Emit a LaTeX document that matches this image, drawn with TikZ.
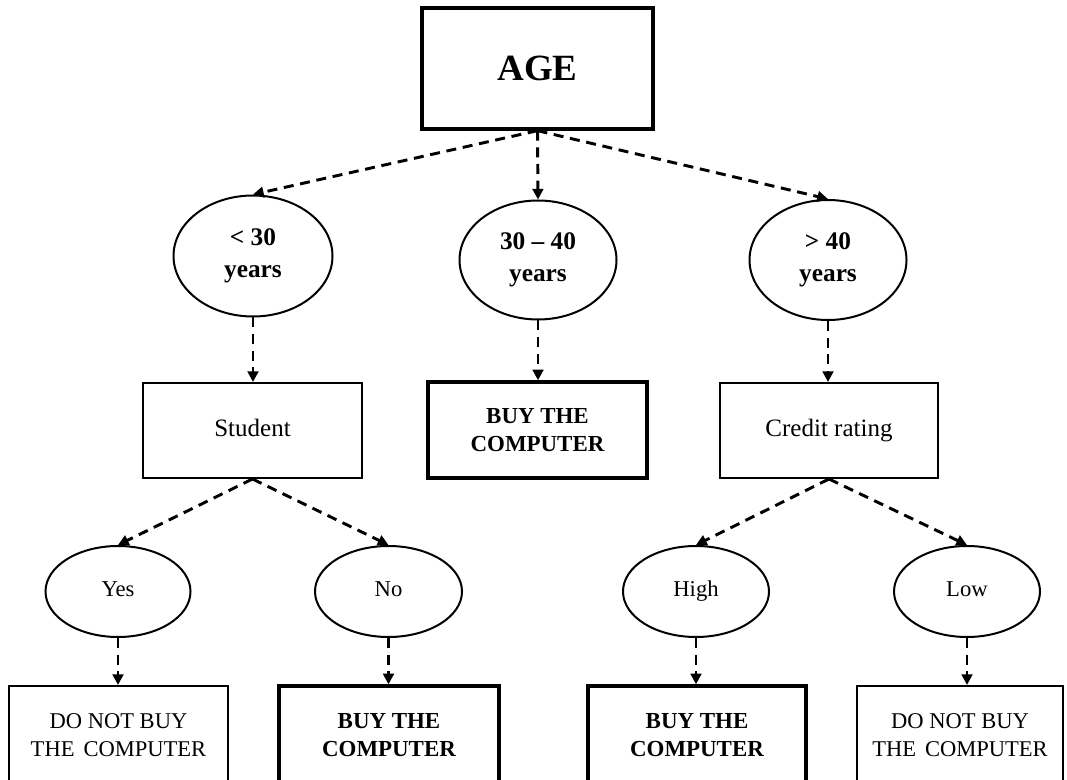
\documentclass[tikz,border=0pt]{standalone}
\usepackage{fontspec}
\setmainfont{Liberation Serif}
\usetikzlibrary{shapes.geometric,arrows.meta}
\tikzset{
  box/.style={draw,line width=1.5pt,rectangle,align=center,inner sep=0pt,font=\fontsize{18.75pt}{23pt}\selectfont},
  onelinetext/.style={text height=13pt,text depth=4pt},
  thickbox/.style={box,line width=2.5pt},
  oval/.style={draw,line width=1.5pt,ellipse,align=center,inner sep=0pt,font=\fontsize{19pt}{24pt}\selectfont\bfseries},
  smalloval/.style={oval,font=\fontsize{17pt}{20pt}\selectfont,text height=12pt,text depth=4pt},
  leafbox/.style={box,font=\fontsize{16.9pt}{21pt}\selectfont},
  buybox/.style={thickbox,font=\fontsize{17.2pt}{20.5pt}\selectfont\bfseries},
  conn/.style={line width=2.2pt,dash pattern=on 7.5pt off 5pt,-{Triangle[length=8pt,width=8pt]}},
}
\begin{document}
\begin{tikzpicture}[x=0.75pt,y=-0.75pt]
\useasboundingbox (0,0) rectangle (1067,780);
\clip (0,0) rectangle (1067,780);
\node[thickbox,minimum width=173.25pt,minimum height=90.75pt,font=\fontsize{27.75pt}{32pt}\selectfont\bfseries] (age) at (537.5,68.5) {AGE};

\node[oval,minimum width=119.25pt,minimum height=90.75pt] (lt30) at (253,256) {< 30\\years};
\node[oval,minimum width=117.75pt,minimum height=89.25pt] (mid) at (538,260) {30 – 40\\years};
\node[oval,minimum width=117.75pt,minimum height=90pt] (gt40) at (828,260) {> 40\\years};

\node[box,onelinetext,minimum width=164.25pt,minimum height=71.25pt] (student) at (252.5,430.5) {Student};
\node[buybox,minimum width=164.25pt,minimum height=72pt] (buy1) at (537.5,430) {BUY THE\\COMPUTER};
\node[box,onelinetext,minimum width=163.5pt,minimum height=71.25pt] (credit) at (829,430.5) {Credit rating};

\node[smalloval,minimum width=108.75pt,minimum height=68.25pt] (yes) at (118,591.5) {Yes};
\node[smalloval,minimum width=110.25pt,minimum height=68.25pt] (no) at (388.5,591.5) {No};
\node[smalloval,minimum width=109.5pt,minimum height=68.25pt] (high) at (696,591.5) {High};
\node[smalloval,minimum width=109.5pt,minimum height=68.25pt] (low) at (967,591.5) {Low};

\node[leafbox,minimum width=164.25pt,minimum height=73.5pt] (dnb1) at (118.5,735) {DO NOT BUY\\THE\hspace{0.4em}COMPUTER};
\node[buybox,minimum width=165pt,minimum height=73.5pt] (buy2) at (389,735) {BUY THE\\COMPUTER};
\node[buybox,minimum width=163.5pt,minimum height=73.5pt] (buy3) at (697,735) {BUY THE\\COMPUTER};
\node[leafbox,minimum width=154.5pt,minimum height=73.5pt] (dnb2) at (960,735) {DO NOT BUY\\THE\hspace{0.4em}COMPUTER};

\draw[conn] (age.south) -- (lt30.north);
\draw[conn] (age.south) -- (mid.north);
\draw[conn] (age.south) -- (gt40.north);
\draw[conn] (lt30.south) -- (lt30.south |- student.north);
\draw[conn] (mid.south) -- (mid.south |- buy1.north);
\draw[conn] (gt40.south) -- (gt40.south |- credit.north);
\draw[conn] (student.south) -- (yes.north);
\draw[conn] (student.south) -- (no.north);
\draw[conn] (credit.south) -- (high.north);
\draw[conn] (credit.south) -- (low.north);
\draw[conn] (yes.south) -- (yes.south |- dnb1.north);
\draw[conn] (no.south) -- (no.south |- buy2.north);
\draw[conn] (high.south) -- (high.south |- buy3.north);
\draw[conn] (low.south) -- (low.south |- dnb2.north);
\end{tikzpicture}
\end{document}
